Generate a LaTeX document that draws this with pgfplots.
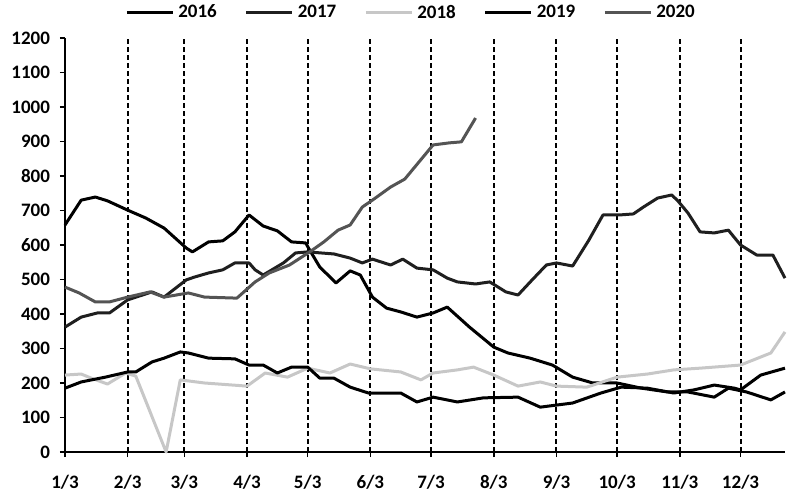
\documentclass[border=0pt]{standalone}
\usepackage{pgfplots}
\pgfplotsset{compat=1.18}
\usepackage{fontspec}
\setmainfont{Carlito}

\begin{document}
\begin{tikzpicture}
\begin{axis}[
    scale only axis,
    width=360bp,
    height=207bp,
    xmin=0, xmax=356,
    ymin=0, ymax=1200,
    axis x line*=bottom,
    axis y line*=left,
    axis line style={line width=1bp, -},
    xtick={0,31,59,90,120,151,181,212,243,273,304,334},
    xticklabels={1/3,2/3,3/3,4/3,5/3,6/3,7/3,8/3,9/3,10/3,11/3,12/3},
    ytick={0,100,...,1200},
    tick align=outside,
    major tick length=2.5bp,
    tick style={line width=0.8bp, black},
    tick label style={font=\fontsize{9.5bp}{11bp}\selectfont\bfseries},
    xticklabel style={yshift=-5.5bp},
    yticklabel style={xshift=-1.5bp},
    /pgf/number format/1000 sep={},
    /pgf/number format/assume math mode=true,
    xmajorgrids,
    major grid style={black, line width=1bp, dash pattern=on 2.5bp off 1.5bp},
    clip=false,
    legend columns=5,
    legend style={
        draw=none, fill=none,
        at={(rel axis cs:0.482,1)}, anchor=center, yshift=12.5bp,
        font=\fontsize{9.5bp}{11bp}\selectfont\bfseries,
        /tikz/every even column/.append style={column sep=12bp},
    },
    legend image code/.code={\draw[#1] (0bp,0bp) -- (23bp,0bp);},
    every axis plot/.append style={line width=1.5bp, line join=round},
]
% 2016
\addplot[black] coordinates {
(0,658) (8,730) (15,739) (21,728) (31,701) (40,678) (49,649) (60,591) (63,580)
(71,609) (78,612) (84,638) (91,687) (98,655) (105,641) (112,609) (119,606) (121,585)
(126,536) (134,490) (141,525) (146,513) (152,449) (159,417) (166,406) (174,391)
(182,403) (189,420) (200,362) (212,304) (219,287) (230,272) (241,252) (251,217)
(261,200) (273,200) (285,185) (298,174) (308,174) (321,159) (328,185) (337,174)
(349,151) (356,174)
};
% 2017
\addplot[black!88] coordinates {
(0,362) (8,391) (16,403) (22,403) (31,441) (43,464) (49,449) (60,499) (64,507)
(71,519) (78,528) (84,548) (91,548) (94,528) (98,513) (108,548) (114,577) (120,580)
(133,574) (141,562) (147,548) (152,559) (161,542) (167,559) (174,533) (182,528)
(189,504) (194,493) (203,487) (210,493) (218,464) (224,455) (231,499) (238,542)
(243,548) (251,539) (259,614) (266,687) (274,687) (281,690) (286,710) (293,736)
(300,745) (303,728) (308,693) (314,638) (321,635) (328,643) (334,600) (342,571)
(350,571) (356,504)
};
% 2018
\addplot[black!22] coordinates {
(0,223) (8,226) (13,214) (21,197) (30,229) (35,220) (50,0) (57,209) (69,200)
(90,191) (99,229) (110,217) (120,243) (131,229) (141,255) (151,241) (166,232)
(176,209) (182,229) (194,238) (202,246) (212,223) (224,191) (235,203) (243,191)
(258,188) (273,217) (288,226) (301,238) (314,243) (334,252) (349,287) (356,348)
};
% 2019
\addplot[black] coordinates {
(0,185) (8,203) (20,217) (31,232) (35,232) (43,261) (49,272) (57,290) (61,287)
(71,272) (84,270) (91,252) (98,252) (105,229) (112,246) (120,246) (126,214)
(133,214) (141,188) (150,171) (166,171) (174,145) (182,159) (194,145) (207,157)
(224,159) (235,130) (251,142) (265,171) (275,188) (288,185) (301,171) (311,180)
(321,194) (331,185) (334,180) (344,223) (356,243)
};
% 2020
\addplot[black!67] coordinates {
(0,478) (7,461) (15,435) (22,435) (31,449) (42,464) (49,449) (61,461) (69,449)
(85,446) (94,493) (101,519) (111,542) (121,580) (128,609) (135,643) (141,658)
(147,710) (152,730) (161,768) (168,791) (182,890) (190,896) (196,899) (203,968)
};
\legend{2016,2017,2018,2019,2020}
\end{axis}
\pgfresetboundingbox
\path (-32.5bp,-24bp) rectangle (367.5bp,226bp);
\end{tikzpicture}
\end{document}
